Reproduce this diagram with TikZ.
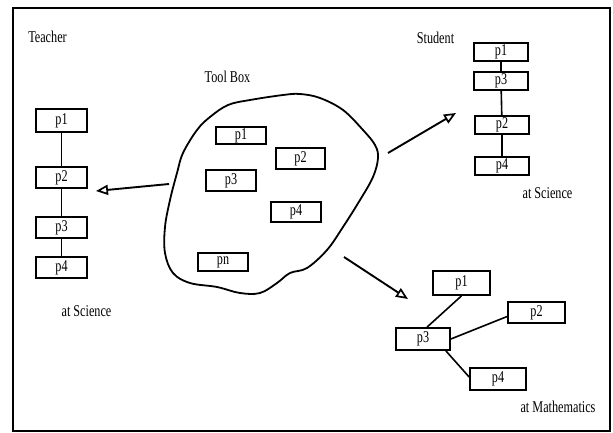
\documentclass[tikz,border=0pt]{standalone}
\usepackage{fontspec}
\setmainfont{Liberation Serif}[FakeStretch=0.74]
\usetikzlibrary{arrows.meta}
\tikzset{
  pbox/.style={draw, line width=1.7pt, inner sep=0pt, font=\fontsize{16.5}{18}\selectfont},
  lbl/.style={inner sep=0pt, font=\fontsize{16.5}{18}\selectfont},
  link/.style={line width=1.6pt},
  flow/.style={line width=1.9pt, -{Triangle[open, length=12pt, width=10pt, line width=1.7pt]}}
}
\begin{document}
\begin{tikzpicture}[x=1pt, y=-1pt]
  \useasboundingbox (0,0) rectangle (613,433);
  % outer frame
  \draw[line width=1.7pt] (13,8) rectangle (610,431);

  % headings
  \node[lbl] (teacher) at (47.5,37) {Teacher};
  \node[lbl] (toolbox) at (227.5,77) {Tool Box};
  \node[lbl] (student) at (435.5,38) {Student};

  % the tool box outline
  \draw[line width=1.8pt] plot[smooth cycle, tension=0.6] coordinates {
    (228,105) (250,100) (283,95) (300,94) (320,98) (343,110) (363,130)
    (375,145) (378,158) (373,177) (360,200) (343,227) (327,250) (307,268)
    (290,273) (277,283) (260,293) (240,293) (217,287) (190,283) (173,273)
    (165,253) (165,227) (170,200) (177,173) (183,153) (197,130) (210,117)};

  % parts inside the tool box
  \node[pbox, minimum width=50pt, minimum height=17pt] (b1) at (241,135.5) {p1};
  \node[pbox, minimum width=49pt, minimum height=21pt] (b2) at (300.5,158.5) {p2};
  \node[pbox, minimum width=50pt, minimum height=21pt] (b3) at (231,180.5) {p3};
  \node[pbox, minimum width=50pt, minimum height=20pt] (b4) at (296,212) {p4};
  \node[pbox, minimum width=50pt, minimum height=18pt] (bn) at (223,262) {pn};

  % teacher sequence
  \node[pbox, minimum width=51pt, minimum height=23pt] (t1) at (61.5,120.5) {p1};
  \node[pbox, minimum width=51pt, minimum height=21pt] (t2) at (61.5,177.5) {p2};
  \node[pbox, minimum width=51pt, minimum height=21pt] (t3) at (61.5,227.5) {p3};
  \node[pbox, minimum width=51pt, minimum height=21pt] (t4) at (61.5,267.5) {p4};
  \draw[link] (t1) -- (t2);
  \draw[link] (t2) -- (t3);
  \draw[link] (t3) -- (t4);
  \node[lbl] (tsci) at (86.5,311) {at Science};

  % student sequence
  \node[pbox, minimum width=54pt, minimum height=18pt] (s1) at (501,52) {p1};
  \node[pbox, minimum width=54pt, minimum height=18pt] (s3) at (501,81) {p3};
  \node[pbox, minimum width=54pt, minimum height=18pt] (s2) at (502,125) {p2};
  \node[pbox, minimum width=54pt, minimum height=18pt] (s4) at (502,166) {p4};
  \draw[link] (s1) -- (s3);
  \draw[link] (s3) -- (s2);
  \draw[link] (s2) -- (s4);
  \node[lbl] (ssci) at (547.5,193) {at Science};

  % mathematics arrangement
  \node[pbox, minimum width=57pt, minimum height=24pt] (m1) at (461.5,283) {p1};
  \node[pbox, minimum width=57pt, minimum height=21pt] (m2) at (536.5,312.5) {p2};
  \node[pbox, minimum width=54pt, minimum height=22pt] (m3) at (423,339) {p3};
  \node[pbox, minimum width=56pt, minimum height=22pt] (m4) at (498,379) {p4};
  \draw[link] ([xshift=4pt]m3.north) -- (m1.south);
  \draw[link] (m3.east) -- ([yshift=-4pt]m2.west);
  \draw[link] ([xshift=-5pt]m3.south east) -- ([yshift=2pt]m4.west);
  \node[lbl] (msci) at (558,407) {at Mathematics};

  % arrows leaving the tool box
  \coordinate (outL) at (169,184);
  \coordinate (inL) at (96,191);
  \coordinate (outS) at (388,153);
  \coordinate (inS) at (456,113);
  \coordinate (outM) at (344,257);
  \coordinate (inM) at (408,299);
  \draw[flow] (outL) -- (inL);
  \draw[flow] (outS) -- (inS);
  \draw[flow] (outM) -- (inM);
\end{tikzpicture}
\end{document}
